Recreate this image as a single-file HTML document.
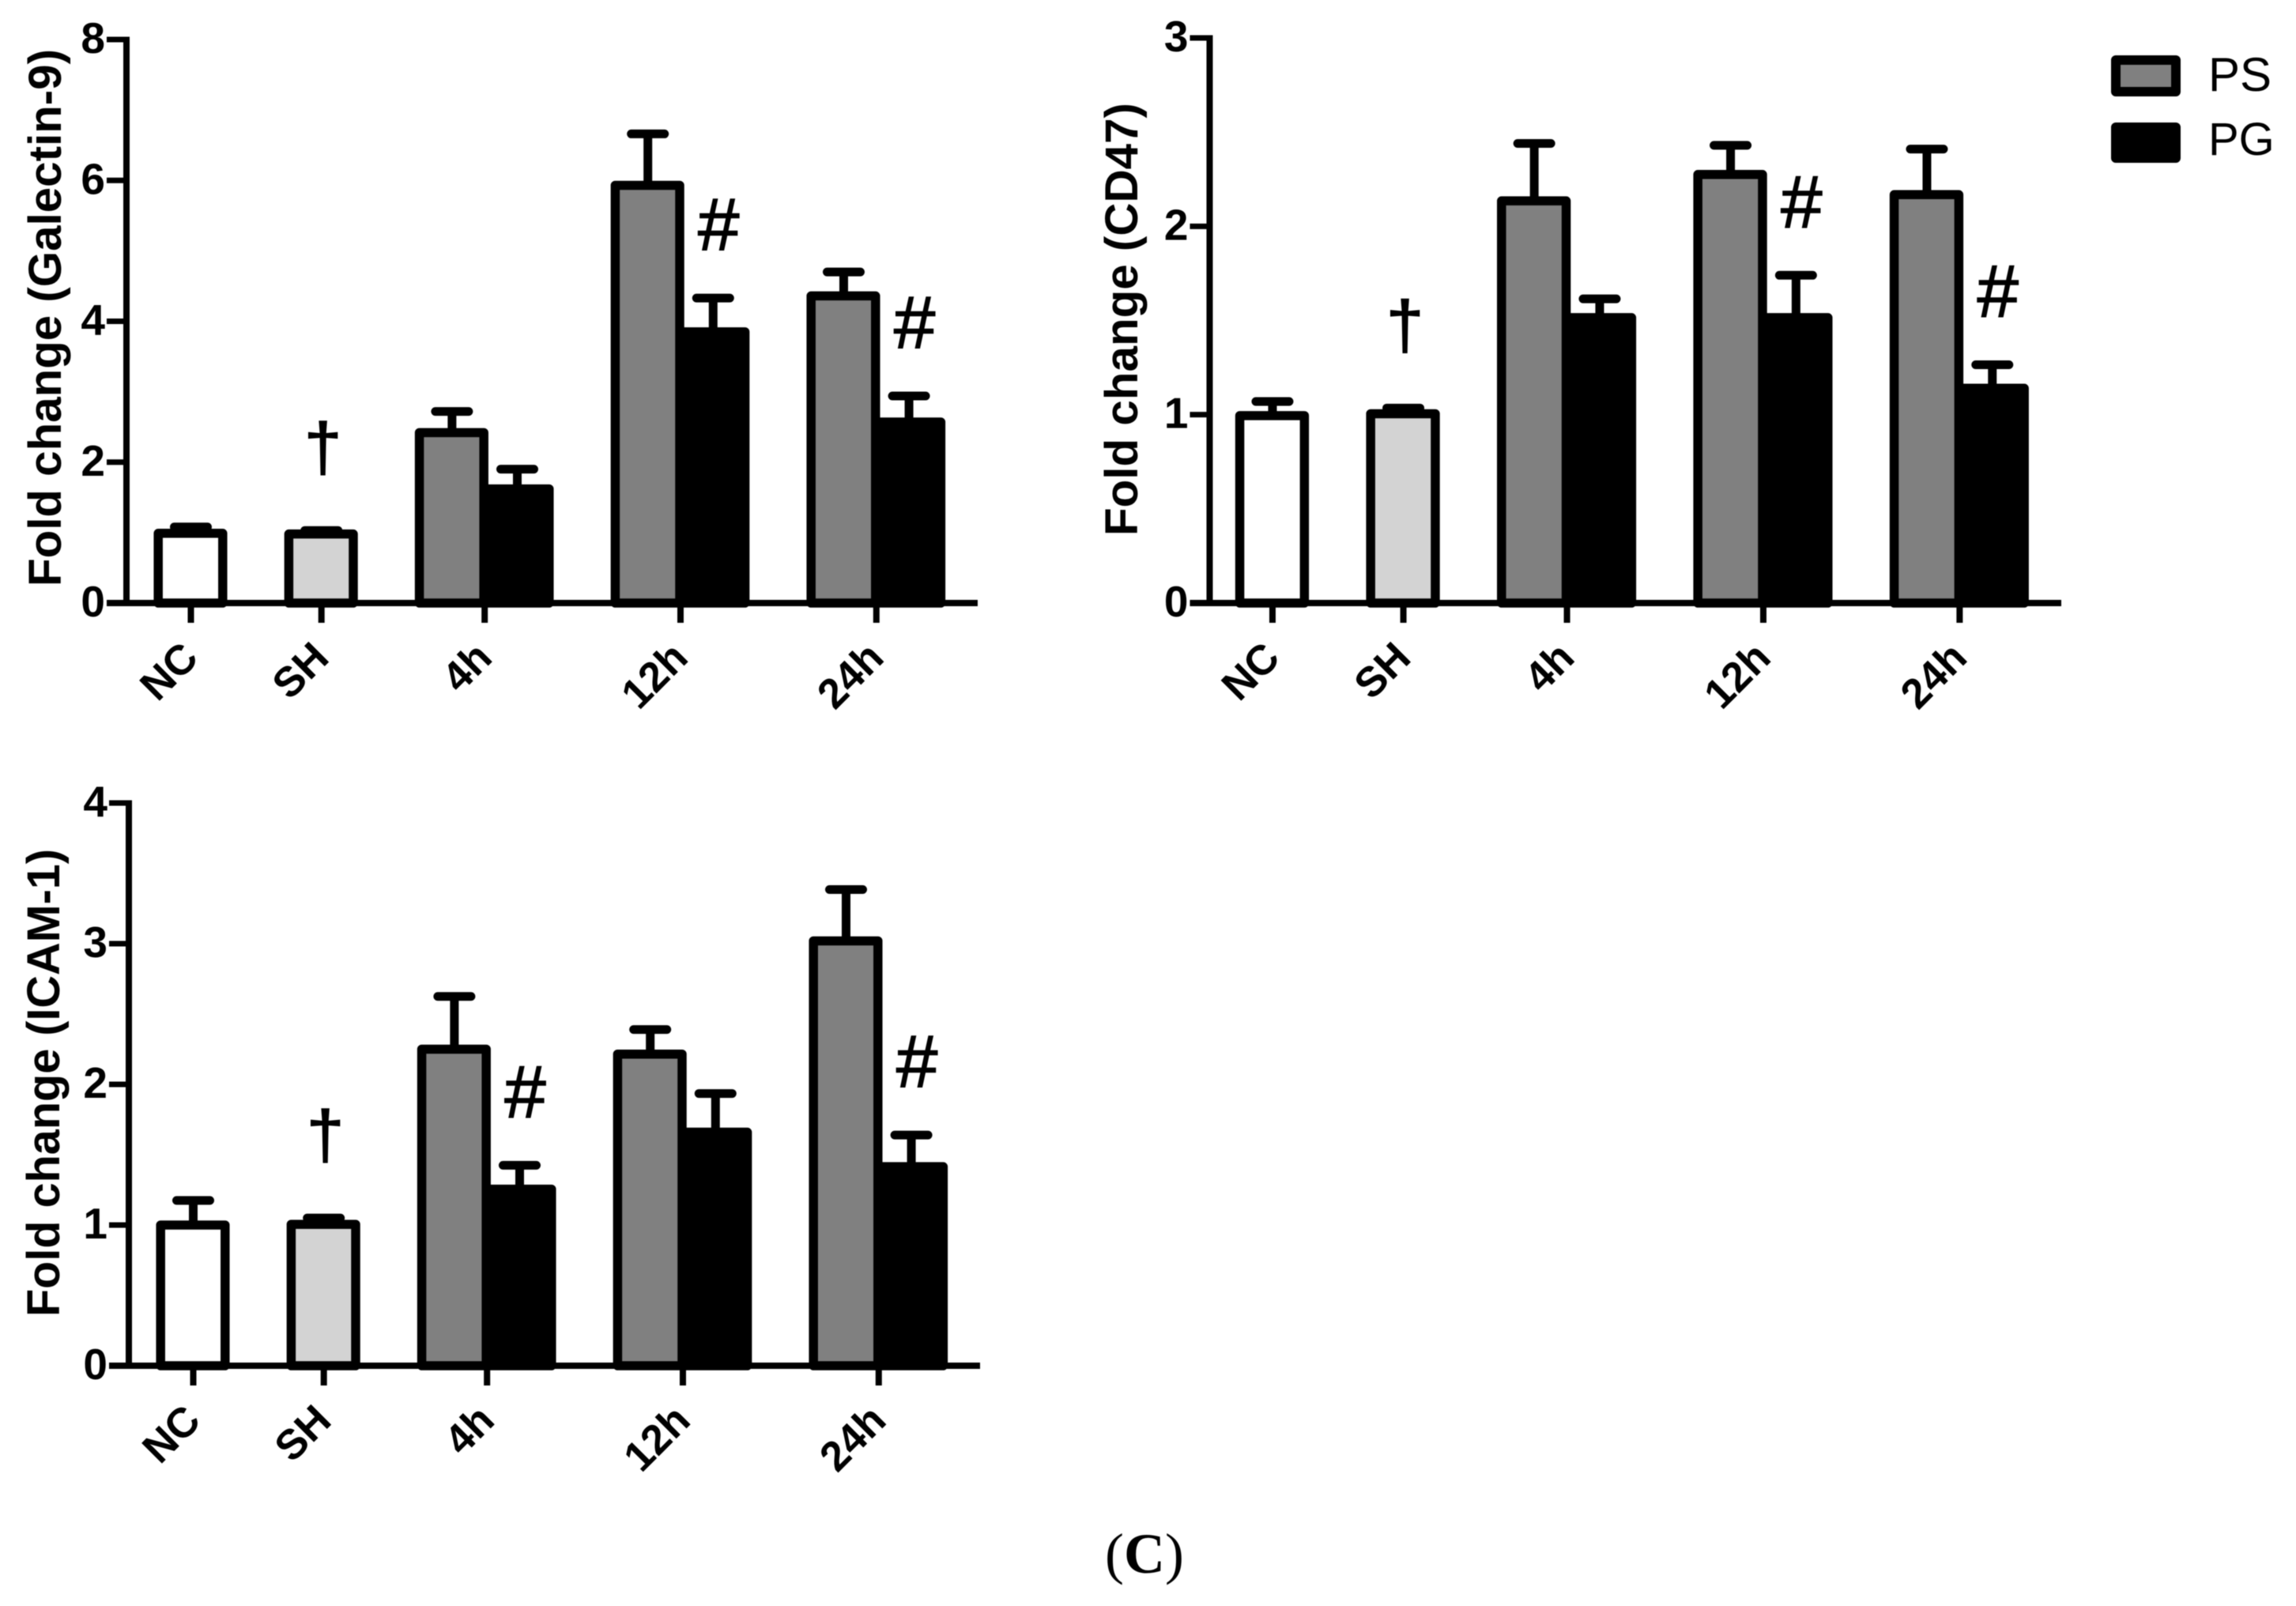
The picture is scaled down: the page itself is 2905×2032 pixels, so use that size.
<!DOCTYPE html>
<html lang="en">
<head>
<meta charset="utf-8">
<title>Fold change bar charts</title>
<style>
  html, body { margin: 0; padding: 0; background: #fff; }
  svg { display: block; filter: blur(0.6px); }
  .sans { font-family: "Liberation Sans", Arial, sans-serif; }
  .serif { font-family: "Liberation Serif", "Times New Roman", serif; }
</style>
</head>
<body>
<svg id="figure" xmlns="http://www.w3.org/2000/svg" width="2905" height="2032" viewBox="0 0 2905 2032">
  <rect x="0" y="0" width="2905" height="2032" fill="#ffffff"/>
  <g>
    <rect x="2677" y="76" width="76" height="40" fill="#808080" stroke="#000" stroke-width="12" stroke-linejoin="round"/>
    <text class="sans" x="2794" y="115" font-size="60">PS</text>
    <rect x="2677" y="161" width="76" height="39" fill="#000" stroke="#000" stroke-width="12" stroke-linejoin="round"/>
    <text class="sans" x="2794" y="196" font-size="58">PG</text>
  </g>
  <text class="serif" x="1448" y="1990" font-size="72" text-anchor="middle">(<tspan font-weight="bold">C</tspan>)</text>
</svg>
<script>
// Shared categories
const categories = ['NC', 'SH', '4h', '12h', '24h'];

// Panel: Galectin-9
const galectinTicks = [0, 2, 4, 6, 8];
const galectinControl = [0.99, 0.98];
const galectinControlUpper = [1.08, 1.03];
const galectinPS = [2.42, 5.93, 4.36];
const galectinPSUpper = [2.72, 6.66, 4.70];
const galectinPG = [1.62, 3.85, 2.57];
const galectinPGUpper = [1.90, 4.33, 2.94];
const galectinHash = ['12h', '24h'];

// Panel: CD47
const cd47Ticks = [0, 1, 2, 3];
const cd47Control = [0.995, 1.005];
const cd47ControlUpper = [1.07, 1.035];
const cd47PS = [2.135, 2.275, 2.168];
const cd47PSUpper = [2.44, 2.43, 2.41];
const cd47PG = [1.515, 1.515, 1.14];
const cd47PGUpper = [1.615, 1.74, 1.265];
const cd47Hash = ['12h', '24h'];

// Panel: ICAM-1
const icamTicks = [0, 1, 2, 3, 4];
const icamControl = [1.0, 1.005];
const icamControlUpper = [1.175, 1.05];
const icamPS = [2.25, 2.215, 3.02];
const icamPSUpper = [2.625, 2.39, 3.385];
const icamPG = [1.255, 1.66, 1.415];
const icamPGUpper = [1.425, 1.935, 1.64];
const icamHash = ['4h', '24h'];

const NS = 'http://www.w3.org/2000/svg';
const figure = document.getElementById('figure');

function make(parent, tag, attrs) {
  const el = document.createElementNS(NS, tag);
  for (const k in attrs) el.setAttribute(k, attrs[k]);
  parent.appendChild(el);
  return el;
}

function drawPanel(cfg) {
  const slot = [0, 2, 4.5, 7.5, 10.5];
  const xScale = i => cfg.x0 + slot[i] * cfg.unit;
  const yScale = v => cfg.y0 - (v / cfg.ticks[cfg.ticks.length - 1]) * (cfg.y0 - cfg.yTop);
  const barStroke = 11.5;

  const g = make(figure, 'g', {});
  
  

  function errorBar(cx, value, upper, key) {
    const line = make(g, 'line', { x1: cx, x2: cx, y1: yScale(value), y2: yScale(upper), stroke: '#000', 'stroke-width': 11 });
    
    
    const cap = make(g, 'line', { x1: cx - 21, x2: cx + 21, y1: yScale(upper), y2: yScale(upper), stroke: '#000', 'stroke-width': 11, 'stroke-linecap': 'round' });
    
    
  }

  function bar(left, value, fill, key) {
    const rect = make(g, 'rect', { x: left, y: yScale(value), width: cfg.unit - 1, height: cfg.y0 - yScale(value), fill: fill, stroke: '#000', 'stroke-width': barStroke, 'stroke-linejoin': 'round' });
    
    
  }

  function symbol(glyph, cx, capValue, dy, size, key) {
    const t = make(g, 'text', { x: cx, y: yScale(capValue) + dy, 'font-size': size, 'text-anchor': 'middle', class: 'sans', stroke: '#000', 'stroke-width': 1.5 });
    t.textContent = glyph;
    
    
  }

  const controlFills = ['#ffffff', '#d3d3d3'];
  cfg.control.forEach((v, i) => {
    const c = xScale(i);
    errorBar(c, v, cfg.controlUpper[i], 'bar-' + categories[i]);
    bar(c - cfg.unit / 2, v, controlFills[i], 'bar-' + categories[i]);
  });
  cfg.ps.forEach((v, i) => {
    const c = xScale(i + 2);
    errorBar(c - cfg.unit / 2, v, cfg.psUpper[i], 'bar-ps-' + categories[i + 2]);
    errorBar(c + cfg.unit / 2, cfg.pg[i], cfg.pgUpper[i], 'bar-pg-' + categories[i + 2]);
    bar(c - cfg.unit, v, '#808080', 'bar-ps-' + categories[i + 2]);
    bar(c, cfg.pg[i], '#000000', 'bar-pg-' + categories[i + 2]);
  });

  // significance markers
  symbol('\u2020', xScale(1) + 2, cfg.controlUpper[1], -76, 85, 'dagger-marker');
  cfg.hash.forEach(label => {
    const i = categories.indexOf(label);
    const cx = xScale(i) + cfg.unit / 2 + 7;
    symbol('#', cx, cfg.pgUpper[i - 2], -61, 94, 'hash-marker-' + label);
  });

  // axes
  const yAxis = make(g, 'line', { x1: cfg.axisX, x2: cfg.axisX, y1: cfg.yTop - 3.5, y2: cfg.y0 + 4, stroke: '#000', 'stroke-width': 8 });
  
  
  const xAxis = make(g, 'line', { x1: cfg.axisX - 25, x2: cfg.axisRight, y1: cfg.y0, y2: cfg.y0, stroke: '#000', 'stroke-width': 8 });
  
  

  cfg.ticks.forEach(v => {
    const y = yScale(v);
    const tick = make(g, 'line', { x1: cfg.axisX - 25, x2: cfg.axisX, y1: y, y2: y, stroke: '#000', 'stroke-width': 7 });
    
    
    const label = make(g, 'text', { x: cfg.axisX - 27, y: y + 17, 'font-size': 55, 'font-weight': 'bold', 'text-anchor': 'end', class: 'sans' });
    label.textContent = String(v);
    
    
  });

  categories.forEach((name, i) => {
    const x = xScale(i);
    const tick = make(g, 'line', { x1: x, x2: x, y1: cfg.y0, y2: cfg.y0 + 25, stroke: '#000', 'stroke-width': 8 });
    
    
    const lx = x + 12, ly = cfg.y0 + 72;
    const label = make(g, 'text', { x: lx, y: ly, 'font-size': 53, 'font-weight': 'bold', 'text-anchor': 'end', class: 'sans', transform: 'rotate(-45 ' + lx + ' ' + ly + ')' });
    label.textContent = name;
    
    
  });

  const title = make(g, 'text', { x: cfg.titleX, y: cfg.titleBottom, 'font-size': 58, 'font-weight': 'bold', class: 'sans', textLength: cfg.titleLength, lengthAdjust: 'spacingAndGlyphs', transform: 'rotate(-90 ' + cfg.titleX + ' ' + cfg.titleBottom + ')' });
  title.textContent = cfg.title;
  
  
}

drawPanel({
  name: 'galectin-9', title: 'Fold change (Galectin-9)',
  ticks: galectinTicks, control: galectinControl, controlUpper: galectinControlUpper,
  ps: galectinPS, psUpper: galectinPSUpper, pg: galectinPG, pgUpper: galectinPGUpper, hash: galectinHash,
  x0: 241.5, unit: 82.6, axisX: 160, axisRight: 1237, y0: 763, yTop: 50,
  titleX: 77, titleBottom: 742, titleLength: 680
});

drawPanel({
  name: 'cd47', title: 'Fold change (CD47)',
  ticks: cd47Ticks, control: cd47Control, controlUpper: cd47ControlUpper,
  ps: cd47PS, psUpper: cd47PSUpper, pg: cd47PG, pgUpper: cd47PGUpper, hash: cd47Hash,
  x0: 1610, unit: 82.8, axisX: 1530.5, axisRight: 2608, y0: 763, yTop: 48,
  titleX: 1439, titleBottom: 678, titleLength: 548
});

drawPanel({
  name: 'icam-1', title: 'Fold change (ICAM-1)',
  ticks: icamTicks, control: icamControl, controlUpper: icamControlUpper,
  ps: icamPS, psUpper: icamPSUpper, pg: icamPG, pgUpper: icamPGUpper, hash: icamHash,
  x0: 244.5, unit: 82.6, axisX: 163, axisRight: 1240, y0: 1728, yTop: 1016,
  titleX: 75, titleBottom: 1666, titleLength: 592
});
</script>
</body>
</html>
